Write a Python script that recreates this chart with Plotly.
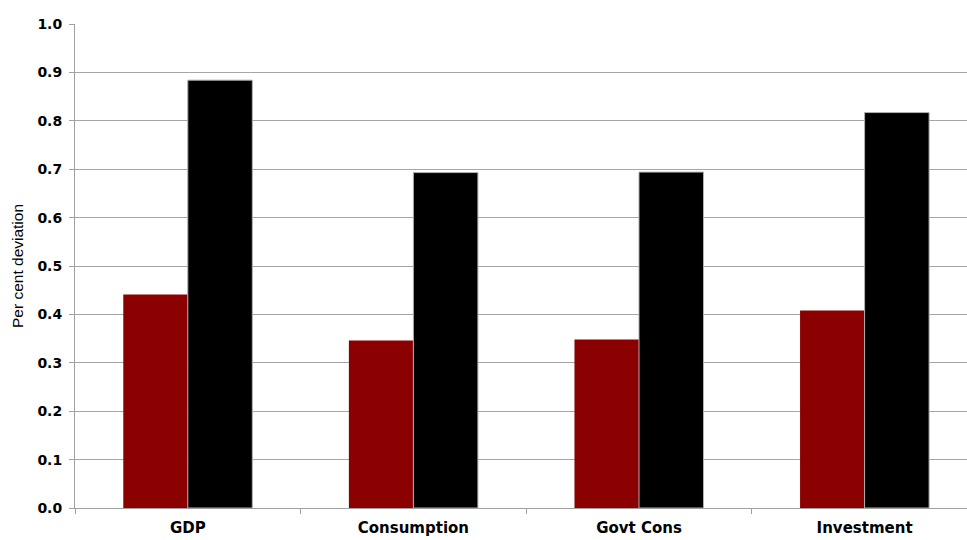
import plotly.graph_objects as go

# Per cent deviation by expenditure component, two scenarios
categories = ["GDP", "Consumption", "Govt Cons", "Investment"]
series_red = [0.441, 0.346, 0.348, 0.408]
series_black = [0.884, 0.693, 0.694, 0.817]
y_ticks = [0.0, 0.1, 0.2, 0.3, 0.4, 0.5, 0.6, 0.7, 0.8, 0.9, 1.0]

fig = go.Figure()
fig.add_trace(go.Bar(
    x=categories, y=series_red, name="Scenario A",
    marker=dict(color="#8B0000", line=dict(width=0)),
))
fig.add_trace(go.Bar(
    x=categories, y=series_black, name="Scenario B",
    marker=dict(color="#000000", line=dict(width=1, color="#b0b0b0")),
))

fig.update_layout(
    width=967, height=540,
    margin=dict(l=75, r=0, t=24, b=32),
    paper_bgcolor="white", plot_bgcolor="white",
    barmode="group", bargap=0.428, bargroupgap=0,
    showlegend=False,
    font=dict(family="DejaVu Sans", color="black"),
)
fig.update_xaxes(
    range=[-0.5, 3.454],
    tickfont=dict(family="DejaVu Sans", size=15, color="black", weight="bold"),
    ticklabelstandoff=6,
    showline=True, linecolor="#a0a0a0", linewidth=1,
    ticks="outside", tickson="boundaries", ticklen=5, tickcolor="#a0a0a0",
    showgrid=False,
)
fig.update_yaxes(
    range=[0, 1.0], tickvals=y_ticks, tickformat=".1f",
    tickfont=dict(family="DejaVu Sans", size=14, color="black", weight="bold"),
    ticklabelstandoff=4,
    showline=True, linecolor="#a0a0a0", linewidth=1,
    ticks="outside", ticklen=5, tickcolor="#a0a0a0",
    showgrid=True, gridcolor="#a6a6a6", gridwidth=1,
    zeroline=False,
    title=dict(text="Per cent deviation",
               font=dict(family="Liberation Sans", size=15.5, color="black"),
               standoff=9),
)

fig.write_html("out.html")
